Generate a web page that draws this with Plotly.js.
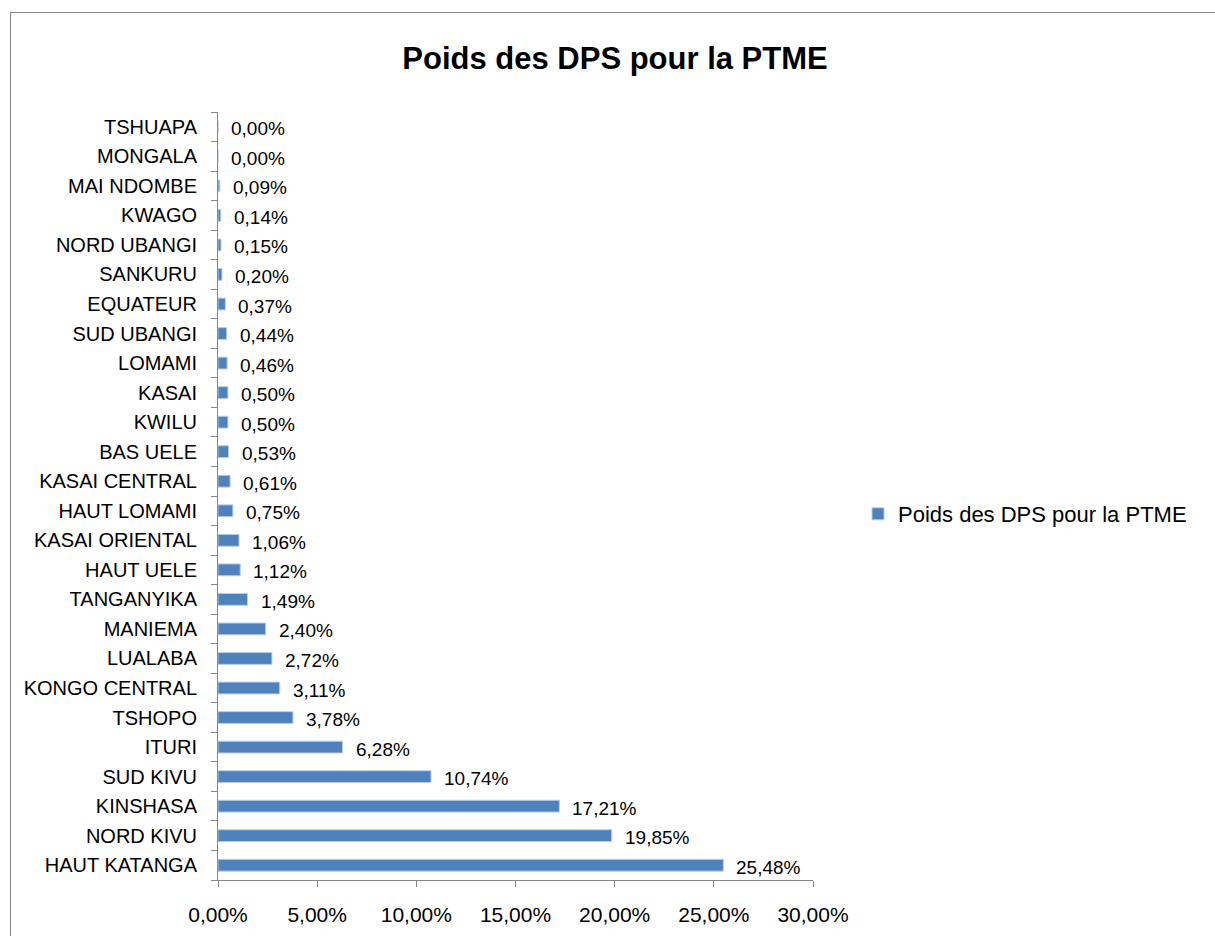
<!DOCTYPE html>
<html>
<head>
<meta charset="utf-8">
<script src="https://cdn.plot.ly/plotly-3.0.1.min.js"></script>
<style>
  html, body { margin: 0; padding: 0; overflow: hidden; background: #fff; }
  #frame { position: absolute; left: 10px; top: 12px; width: 1400px; height: 1100px; border: 1px solid #868686; pointer-events: none; }
  #chart { position: absolute; left: 0; top: 0; width: 1215px; height: 936px; }
</style>
</head>
<body>
<div id="chart"></div>
<div id="frame"></div>
<script>
const categories = ["HAUT KATANGA","NORD KIVU","KINSHASA","SUD KIVU","ITURI","TSHOPO","KONGO CENTRAL","LUALABA","MANIEMA","TANGANYIKA","HAUT UELE","KASAI ORIENTAL","HAUT LOMAMI","KASAI CENTRAL","BAS UELE","KWILU","KASAI","LOMAMI","SUD UBANGI","EQUATEUR","SANKURU","NORD UBANGI","KWAGO","MAI NDOMBE","MONGALA","TSHUAPA"];
const values = [25.48,19.85,17.21,10.74,6.28,3.78,3.11,2.72,2.40,1.49,1.12,1.06,0.75,0.61,0.53,0.50,0.50,0.46,0.44,0.37,0.20,0.15,0.14,0.09,0.00,0.00];
const seriesName = "Poids des DPS pour la PTME";
const tickVals = [0,5,10,15,20,25,30];
const tickText = ["0,00%","5,00%","10,00%","15,00%","20,00%","25,00%","30,00%"];

const fmt = v => v.toFixed(2).replace(".", ",") + "%";
const FONT = "Liberation Sans, Arial, sans-serif";

const trace = {
  type: "bar",
  orientation: "h",
  y: categories,
  x: values,
  name: seriesName,
  width: 0.4,
  marker: { color: "#4F81BD", line: { color: "#B9CDE5", width: 1 } },
  hoverinfo: "x+y",
  showlegend: true
};

const annotations = categories.map((c, i) => ({
  x: values[i], y: c, xref: "x", yref: "y",
  text: fmt(values[i]), showarrow: false,
  xanchor: "left", yanchor: "middle", xshift: 11, yshift: -2,
  font: { family: FONT, size: 19, color: "#000" }
}));

const layout = {
  width: 1215, height: 936,
  paper_bgcolor: "rgba(0,0,0,0)", plot_bgcolor: "#fff",
  margin: { l: 218, r: 402, t: 112, b: 56 },
  title: { text: "<b>Poids des DPS pour la PTME</b>", x: 615/1215, xref: "container", xanchor: "center",
           y: 1 - 58/936, yref: "container", yanchor: "middle", font: { family: FONT, size: 31, color: "#000" } },
  bargap: 0.6,
  xaxis: {
    range: [0, 30], tickvals: tickVals, ticktext: tickText,
    showgrid: false, zeroline: false,
    showline: true, linecolor: "#868686", linewidth: 1,
    ticks: "outside", ticklen: 6, tickcolor: "#868686",
    tickfont: { family: FONT, size: 21, color: "#000" },
    ticklabelstandoff: 10,
    fixedrange: true
  },
  yaxis: {
    type: "category", categoryorder: "array", categoryarray: categories,
    showgrid: false, zeroline: false,
    showline: true, linecolor: "#868686", linewidth: 1,
    ticks: "outside", ticklen: 6, tickcolor: "#868686", tickson: "boundaries",
    tickfont: { family: FONT, size: 20, color: "#000" },
    ticklabelstandoff: 16,
    fixedrange: true
  },
  showlegend: true,
  legend: { x: (858 - 218)/595, y: (880 - 514)/768, xanchor: "left", yanchor: "middle",
            font: { family: FONT, size: 22, color: "#000" }, itemwidth: 30, bgcolor: "rgba(0,0,0,0)" },
  annotations: annotations
};

Plotly.newPlot("chart", [trace], layout, { displayModeBar: false, staticPlot: true });
</script>
</body>
</html>
